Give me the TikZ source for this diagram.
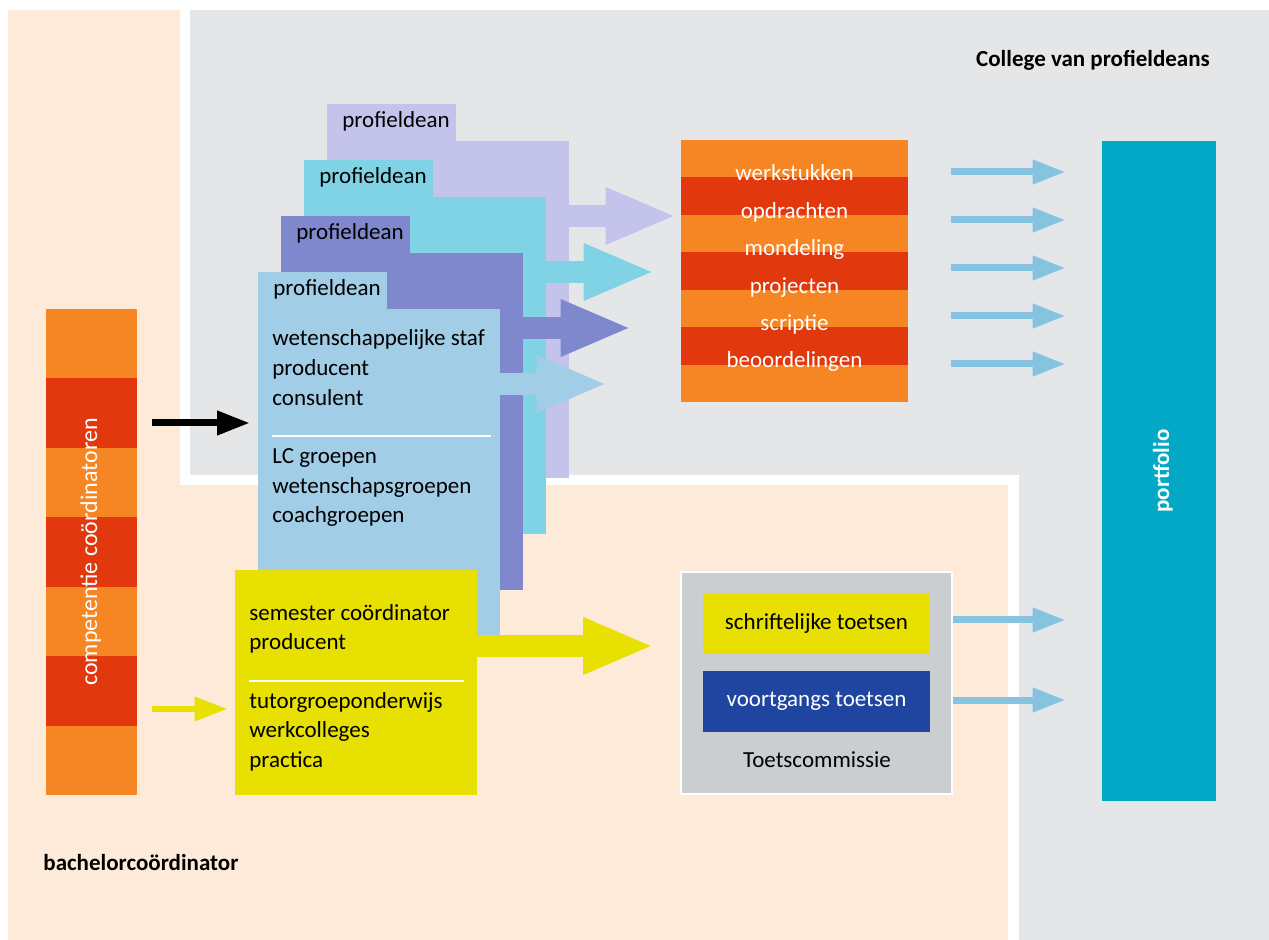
\documentclass[tikz,border=0pt]{standalone}
\usepackage{fontspec}
\setmainfont{Carlito}
\usetikzlibrary{arrows.meta}
\definecolor{cpeach}{HTML}{FEEAD8}
\definecolor{cgrey}{HTML}{E5E6E8}
\definecolor{clav}{HTML}{C3C3EC}
\definecolor{ccyan}{HTML}{80D3E5}
\definecolor{cpurple}{HTML}{7F88CD}
\definecolor{clblue}{HTML}{A2CDE6}
\definecolor{corange}{HTML}{F68524}
\definecolor{cred}{HTML}{E2380E}
\definecolor{cyellow}{HTML}{E8E000}
\definecolor{ctoets}{HTML}{CBCED1}
\definecolor{cdblue}{HTML}{1F45A0}
\definecolor{cport}{HTML}{02A8C6}
\definecolor{carrow}{HTML}{86C3E0}
\tikzset{
  every picture/.style={font=\fontsize{11.5}{15}\selectfont},
  box/.style={fill=#1, inner sep=0pt},
  txt/.style={anchor=base west, inner sep=0pt},
  ctxt/.style={anchor=base, inner sep=0pt},
  title/.style={font=\bfseries\fontsize{11.5}{15}\selectfont, inner sep=0pt},
  bigarrow/.style={draw=#1, line width=11pt, -{Triangle[length=35.5pt, width=26pt]}},
  thinarrow/.style={draw=#1, line width=3.5pt, -{Triangle[length=16.5pt, width=11.5pt]}},
}
% one profieldean block: name, colour, left, top, bottom
\newcommand{\deanblock}[5]{%
  \fill[#2] (#3,#4) rectangle ({#3+129},{#4+37});
  \fill[#2] (#3,{#4+37}) rectangle ({#3+242},#5);
  \node[txt] (#1) at ({#3+15},{#4+24}) {profieldean};
  \coordinate (#1-w) at (#3,{#4+151});
  \coordinate (#1-e) at ({#3+242},{#4+112});}

\begin{document}
\begin{tikzpicture}[x=0.5pt, y=-0.5pt]
  \useasboundingbox (0,0) rectangle (1269,940);
  % backgrounds
  \fill[white] (0,0) rectangle (1269,940);
  \fill[cpeach] (8,10) rectangle (180,940);
  \fill[cpeach] (8,485) rectangle (1008,940);
  \fill[cgrey] (190,10) rectangle (1269,475);
  \fill[cgrey] (1019,10) rectangle (1269,940);
  \node[title, anchor=base] (college) at (1093,67) {College van profieldeans};
  \node[title, anchor=base west] (bachelor) at (43,870) {bachelorcoördinator};
  % competentie bar
  \node[minimum width=45.5pt, minimum height=243pt, inner sep=0pt] (comp) at (91.5,552) {};
  \foreach \i/\c in {0/corange,1/cred,2/corange,3/cred,4/corange,5/cred,6/corange}
    \fill[\c] (46,{309+69.43*\i}) rectangle (137,{309+69.43*(\i+1)});
  \node[ctxt, rotate=90, text=white, font=\fontsize{12}{15}\selectfont] (comptext) at (97,552) {competentie coördinatoren};
  % profieldean blocks, back to front
  \deanblock{dean1}{clav}{327}{104}{478}
  \deanblock{dean2}{ccyan}{304}{160}{534}
  \deanblock{dean3}{cpurple}{281}{216}{590}
  \deanblock{dean4}{clblue}{258}{272}{635}
  \foreach \t [count=\i from 0] in {wetenschappelijke staf,producent,consulent}
    \node[txt] (staf-\i) at (272,{346+30*\i}) {\t};
  \draw[white, line width=1.2pt] (272,436) -- (491,436);
  \foreach \t [count=\i from 0] in {LC groepen,wetenschapsgroepen,coachgroepen}
    \node[txt] (groep-\i) at (272,{464+29.5*\i}) {\t};
  % semester box
  \node[box=cyellow, minimum width=121pt, minimum height=112.5pt] (sem) at (356,682.5) {};
  \node[txt] (sem-0) at (249,621) {semester coördinator};
  \node[txt] (sem-1) at (249,650) {producent};
  \draw[white, line width=1.2pt] (249,681) -- (464,681);
  \foreach \t [count=\i from 0] in {tutorgroeponderwijs,werkcolleges,practica}
    \node[txt] (tutor-\i) at (249,{708+29.5*\i}) {\t};
  % werkstukken
  \node[minimum width=113.5pt, minimum height=131pt, inner sep=0pt] (work) at (794.5,271) {};
  \foreach \i/\c in {0/corange,1/cred,2/corange,3/cred,4/corange,5/cred,6/corange}
    \fill[\c] (681,{140+37.43*\i}) rectangle (908,{140+37.43*(\i+1)});
  \foreach \t [count=\i from 0] in {werkstukken,opdrachten,mondeling,projecten,scriptie,beoordelingen}
    \node[ctxt, text=white] (work-\i) at (794.5,{181+37.4*\i}) {\t};
  % Toetscommissie
  \node[box=ctoets, draw=white, line width=1pt, minimum width=135.5pt, minimum height=111pt] (tc) at (816.5,683) {};
  \node[box=cyellow, minimum width=113.5pt, minimum height=30.5pt] (schr) at (816.5,623.5) {schriftelijke toetsen};
  \node[box=cdblue, text=white, minimum width=113.5pt, minimum height=30.5pt] (voort) at (816.5,701.5) {voortgangs toetsen};
  \node[ctxt] (tclabel) at (817,767) {Toetscommissie};
  % portfolio
  \node[box=cport, minimum width=57pt, minimum height=330pt] (port) at (1159,471) {};
  \node[ctxt, title, rotate=90, text=white] (porttext) at (1169,471) {portfolio};
  % arrows
  \draw[bigarrow=clav, shorten >=2pt] (dean1-e) -- (work.west |- dean1-e);
  \draw[bigarrow=ccyan, shorten >=13pt] (dean2-e) -- (work.west |- dean2-e);
  \draw[bigarrow=cpurple, shorten >=24.5pt] (dean3-e) -- (work.west |- dean3-e);
  \draw[bigarrow=clblue, shorten >=36.5pt] (dean4-e) -- (work.west |- dean4-e);
  \draw[bigarrow=cyellow, shorten >=13pt] (sem.east |- 0,646) -- (tc.west |- 0,646);
  \draw[thinarrow=black, shorten <=7.5pt, shorten >=4pt] (comp.east |- dean4-w) -- (dean4-w);
  \draw[thinarrow=cyellow, line width=3pt, shorten <=7.5pt, shorten >=3.5pt] (comp.east |- 0,709) -- (sem.west |- 0,709);
  \foreach \y in {172,220,268,316,364}
    \draw[thinarrow=carrow, shorten <=21.5pt, shorten >=18pt] (work.east |- 0,\y) -- (port.west |- 0,\y);
  \foreach \y in {620,700}
    \draw[thinarrow=carrow, shorten >=18pt] (tc.east |- 0,\y) -- (port.west |- 0,\y);
\end{tikzpicture}
\end{document}
